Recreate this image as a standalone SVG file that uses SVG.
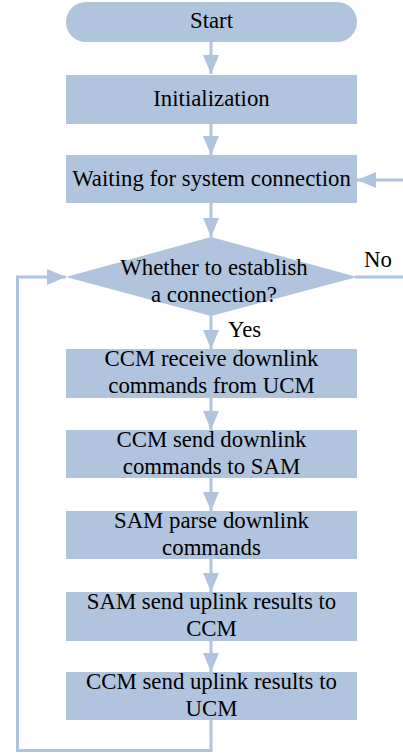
<svg xmlns="http://www.w3.org/2000/svg" width="403" height="753" viewBox="0 0 403 753">
<style>
.n{fill:#B0C4DE;stroke:none}
.t{font-family:'Liberation Serif','Times New Roman',Times,'DejaVu Serif',serif;font-size:22.8px;fill:#000;text-anchor:middle}
.l{font-family:'Liberation Serif','Times New Roman',Times,'DejaVu Serif',serif;font-size:22.8px;fill:#000}
.c{fill:none;stroke:#B0C4DE;stroke-width:3}
</style>
<defs>
<marker id="ah" markerUnits="userSpaceOnUse" markerWidth="20" markerHeight="16" refX="19" refY="8" orient="auto" viewBox="0 0 20 16">
<path d="M0,0 L19,8 L0,16 z" fill="#B0C4DE"/>
</marker>
</defs>
<rect width="403" height="753" fill="#fff"/>
<g id="connectors">
<path class="c" d="M211,42 V74" marker-end="url(#ah)"/>
<path class="c" d="M211,124 V155" marker-end="url(#ah)"/>
<path class="c" d="M211,203 V237" marker-end="url(#ah)"/>
<path class="c" d="M211,316 V349" marker-end="url(#ah)"/>
<path class="c" d="M211,398 V430" marker-end="url(#ah)"/>
<path class="c" d="M211,478 V511" marker-end="url(#ah)"/>
<path class="c" d="M211,559 V592" marker-end="url(#ah)"/>
<path class="c" d="M211,641 V672" marker-end="url(#ah)"/>
<path class="c" d="M211,720 V750.5 H17.5 V277 H66" marker-end="url(#ah)"/>
<path class="c" d="M355,277 H407 V180 H357" marker-end="url(#ah)"/>
<text class="l" x="228" y="337">Yes</text>
<text class="l" x="364" y="267">No</text>
</g>
<g id="start">
<rect class="n" x="66" y="2" width="291" height="40" rx="20"/>
<text class="t" x="211.5" y="28">Start</text>
</g>
<g id="init">
<rect class="n" x="66" y="75" width="291" height="49"/>
<text class="t" x="211.5" y="106">Initialization</text>
</g>
<g id="waiting">
<rect class="n" x="66" y="155" width="291" height="48"/>
<text class="t" x="211.5" y="186">Waiting for system connection</text>
</g>
<g id="decision">
<polygon class="n" points="211,237 357,277 211,316 66,277"/>
<text class="t" x="214" y="275">Whether to establish</text>
<text class="t" x="214" y="302">a connection?</text>
</g>
<g id="ccm-receive">
<rect class="n" x="66" y="349" width="291" height="49"/>
<text class="t" x="211.5" y="366">CCM receive downlink</text>
<text class="t" x="211.5" y="393">commands from UCM</text>
</g>
<g id="ccm-send-down">
<rect class="n" x="66" y="430" width="291" height="48"/>
<text class="t" x="211.5" y="447">CCM send downlink</text>
<text class="t" x="211.5" y="474">commands to SAM</text>
</g>
<g id="sam-parse">
<rect class="n" x="66" y="511" width="291" height="48"/>
<text class="t" x="211.5" y="528">SAM parse downlink</text>
<text class="t" x="211.5" y="555">commands</text>
</g>
<g id="sam-send-up">
<rect class="n" x="66" y="592" width="291" height="49"/>
<text class="t" x="211.5" y="609">SAM send uplink results to</text>
<text class="t" x="211.5" y="636">CCM</text>
</g>
<g id="ccm-send-up">
<rect class="n" x="66" y="672" width="291" height="48"/>
<text class="t" x="211.5" y="689">CCM send uplink results to</text>
<text class="t" x="211.5" y="716">UCM</text>
</g>
</svg>
